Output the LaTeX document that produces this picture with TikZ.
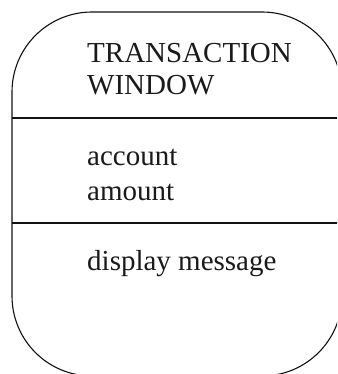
\documentclass[tikz,border=0pt]{standalone}
\usepackage{fontspec}
\setmainfont{Liberation Serif}
\usepackage{tikz}
\usetikzlibrary{positioning}
\definecolor{twLine}{HTML}{111111}
\definecolor{twText}{HTML}{1A1A1A}

\tikzset{
  twLabel/.style={anchor=base west, inner sep=0pt, text=twText,
                  font=\fontsize{29}{32}\selectfont},
  twRule/.style={twLine, line width=1.5pt}
}

\begin{document}
\begin{tikzpicture}[x=1pt,y=-1pt]
  % ramka rysunku (okno wychodzi poza prawą i dolną krawędź)
  \useasboundingbox (0,0) rectangle (337,374);
  \clip (0,0) rectangle (337,374);
  % obrys okna -- mocno zaokrąglone narożniki
  \draw[twLine, line width=1.1pt, rounded corners=80pt] (12,12) rectangle (342,376);
  % podziały: nazwa | atrybuty | operacje
  \draw[twRule] (12,118) -- (342,118);
  \draw[twRule] (12,223) -- (342,223);
  % nazwa
  \node[twLabel] (nazwa1) at (87,63) {TRANSACTION};
  \node[twLabel] (nazwa2) at (87,95) {WINDOW};
  % atrybuty
  \node[twLabel] (atr1) at (87,165) {account};
  \node[twLabel] (atr2) at (87,200) {amount};
  % operacje
  \node[twLabel] (op1) at (87,270) {display message};
\end{tikzpicture}
\end{document}
